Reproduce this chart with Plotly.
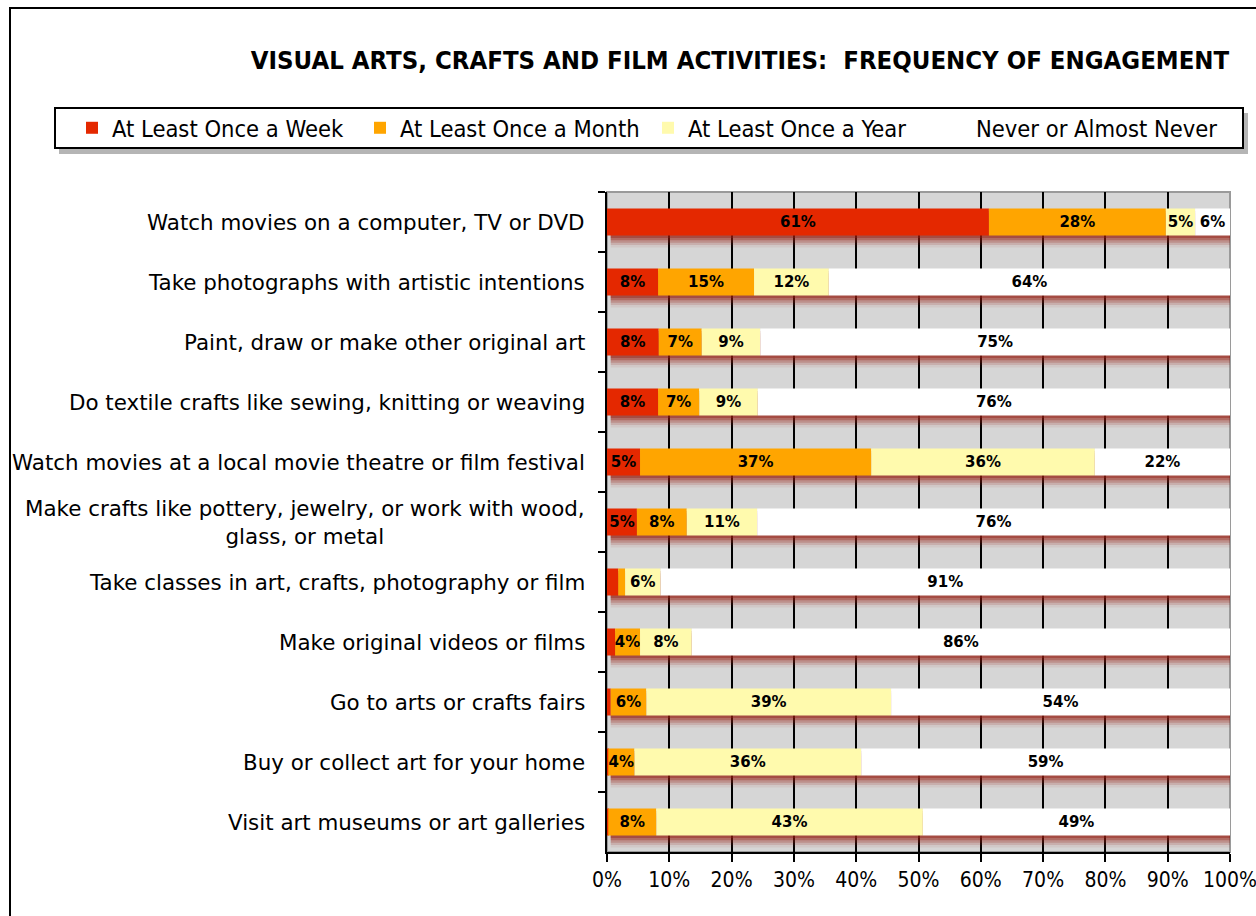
import plotly.graph_objects as go

categories = [
    "Watch movies on a computer, TV or DVD",
    "Take photographs with artistic intentions",
    "Paint, draw or make other original art",
    "Do textile crafts like sewing, knitting or weaving",
    "Watch movies at a local movie theatre or film festival",
    "Make crafts like pottery, jewelry, or work with wood,<br>glass, or metal",
    "Take classes in art, crafts, photography or film",
    "Make original videos or films",
    "Go to arts or crafts fairs",
    "Buy or collect art for your home",
    "Visit art museums or art galleries",
]
weekly = [61.3, 8.2, 8.3, 8.2, 5.3, 4.8, 1.8, 1.3, 0.6, 0.2, 0.2]
monthly = [28.4, 15.4, 6.9, 6.6, 37.1, 8.0, 1.1, 4.0, 5.7, 4.2, 7.7]
yearly = [4.7, 12.0, 9.4, 9.4, 35.9, 11.3, 5.7, 8.3, 39.3, 36.4, 42.8]
never = [5.6, 64.4, 75.4, 75.8, 21.7, 75.9, 91.4, 86.4, 54.4, 59.2, 49.3]

series_names = ["At Least Once a Week", "At Least Once a Month",
                "At Least Once a Year", "Never or Almost Never"]
series_values = [weekly, monthly, yearly, never]
colors = ["#e42800", "#ffa500", "#fffaad", "#ffffff"]

W, H = 1256, 916
L, R, T, B = 607, 26, 192, 64
PW, PH = W - L - R, H - T - B

def px_x(p):
    return (p - L) / PW

def px_y(p):
    return 1 + (T - p) / PH

fig = go.Figure()

# drop shadows under each bar
totals = [sum(v) for v in zip(*series_values)]
for off, alpha in [(0.04, 0.40), (0.08, 0.32), (0.12, 0.22), (0.16, 0.14), (0.20, 0.07)]:
    fig.add_trace(go.Bar(
        y=categories, x=totals, base=[0.6] * len(categories), orientation="h",
        width=0.45, offset=-0.225 + off,
        marker=dict(color=f"rgba(150,30,20,{alpha})", line=dict(width=0)),
        showlegend=False, hoverinfo="skip"))

cum = [0.0] * len(categories)
for name, vals, col in zip(series_names, series_values, colors):
    txt = [f"{round(v):d}%" if v >= 3 else "" for v in vals]
    fig.add_trace(go.Bar(
        y=categories, x=vals, base=list(cum), orientation="h", name=name,
        width=0.45, offset=-0.225,
        marker=dict(color=col, line=dict(width=0)),
        text=txt, textposition="inside", insidetextanchor="middle",
        textangle=0,
        textfont=dict(family="DejaVu Sans", size=15, color="black", weight="bold"),
    ))
    cum = [c + v for c, v in zip(cum, vals)]

# category labels
for c in categories:
    fig.add_annotation(x=0, xref="paper", y=c, yref="y", text=c,
                       xanchor="right", xshift=-20, showarrow=False, align="center",
                       font=dict(family="DejaVu Sans", size=21.4, color="black"))

shapes = [
    # outer frame
    dict(type="rect", xref="paper", yref="paper", x0=px_x(10), x1=px_x(1300),
         y0=px_y(960), y1=px_y(8), line=dict(color="black", width=2),
         fillcolor="rgba(0,0,0,0)", layer="below"),
    # legend shadow
    dict(type="rect", xref="paper", yref="paper", x0=px_x(59), x1=px_x(1248),
         y0=px_y(154), y1=px_y(113), line=dict(width=0),
         fillcolor="rgba(120,120,120,0.55)", layer="below"),
    # legend box
    dict(type="rect", xref="paper", yref="paper", x0=px_x(55), x1=px_x(1243),
         y0=px_y(148), y1=px_y(108), line=dict(color="black", width=2),
         fillcolor="white", layer="below"),
    # plot border in grey
    dict(type="rect", xref="paper", yref="paper", x0=0, x1=1, y0=0, y1=1,
         line=dict(color="#9a9a9a", width=2), layer="below"),
]

fig.update_layout(
    width=W, height=H,
    margin=dict(l=L, r=R, t=T, b=B, autoexpand=False),
    paper_bgcolor="white", plot_bgcolor="#d6d6d6",
    barmode="overlay",
    uniformtext=dict(minsize=15, mode="show"),
    title=dict(text="<b>VISUAL ARTS, CRAFTS AND FILM ACTIVITIES:  FREQUENCY OF ENGAGEMENT</b>",
               x=740 / W, xanchor="center", y=1 - 60 / H, yanchor="middle",
               font=dict(family="DejaVu Sans Condensed", size=25.5, color="black")),
    legend=dict(orientation="h", x=px_x(72), xanchor="left", y=px_y(128), yanchor="middle",
                bgcolor="rgba(0,0,0,0)", borderwidth=0, entrywidth=243,
                font=dict(family="DejaVu Sans Condensed", size=23.5, color="black"),
                itemclick=False, traceorder="normal"),
    shapes=shapes,
    showlegend=True,
)
fig.update_xaxes(range=[0, 100], tickvals=list(range(0, 101, 10)),
                 ticktext=[f"{v}%" for v in range(0, 101, 10)],
                 showgrid=True, gridcolor="black", gridwidth=2,
                 showline=True, linecolor="black", linewidth=2,
                 ticks="outside", ticklen=8, tickwidth=2, tickcolor="black",
                 zeroline=False, layer="below traces", ticklabeloverflow="allow",
                 tickfont=dict(family="DejaVu Sans Condensed", size=21, color="black"))
fig.update_yaxes(type="category", categoryorder="array", categoryarray=categories,
                 autorange="reversed", showticklabels=False,
                 ticks="outside", tickson="boundaries", ticklen=7, tickwidth=2,
                 tickcolor="black", showline=True, linecolor="black", linewidth=2,
                 showgrid=False, zeroline=False)

fig.write_html("out.html", config={"displayModeBar": False},
               post_script="document.body.style.margin='0';document.body.style.overflow='hidden';")
